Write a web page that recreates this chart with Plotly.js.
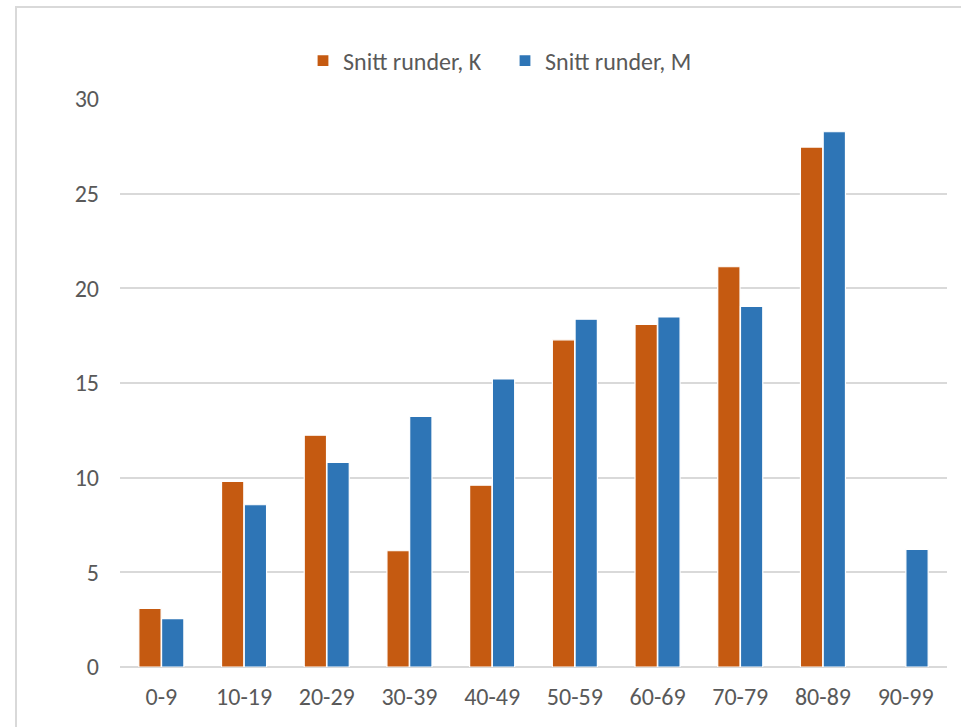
<!DOCTYPE html>
<html>
<head>
<meta charset="utf-8">
<script src="https://cdn.plot.ly/plotly-3.0.1.min.js"></script>
<style>
html,body{margin:0;padding:0;background:#fff;}
#chart{width:961px;height:727px;}
</style>
</head>
<body>
<div id="chart"></div>
<script>
const categories = ["0-9","10-19","20-29","30-39","40-49","50-59","60-69","70-79","80-89","90-99"];
const seriesK = [3.1, 9.8, 12.24, 6.14, 9.6, 17.28, 18.1, 21.14, 27.46, null];
const seriesM = [2.55, 8.57, 10.81, 13.24, 15.21, 18.37, 18.49, 19.05, 28.27, 6.21];
const nameK = "Snitt runder, K";
const nameM = "Snitt runder, M";
const yTicks = [0, 5, 10, 15, 20, 25, 30];

const W = 961, H = 727;
const L = 120, R = 14, T = 99, B = 60;
const pw = W - L - R, ph = H - T - B;
function px2x(p){ return (p - L) / pw; }
function py2y(p){ return (H - B - p) / ph; }

const fontFam = "Carlito, 'Liberation Sans', Arial, sans-serif";
const txtCol = "#595959";
const fs = 24;

const traces = [
  {type:'bar', name:nameK, x:categories, y:seriesK,
   marker:{color:'#C55A11', line:{color:'#ffffff', width:1.2}}},
  {type:'bar', name:nameM, x:categories, y:seriesM,
   marker:{color:'#2E75B6', line:{color:'#ffffff', width:1.2}}}
];

const layout = {
  width: W, height: H,
  margin: {l:L, r:R, t:T, b:B, pad:0},
  paper_bgcolor:'#ffffff', plot_bgcolor:'#ffffff',
  barmode:'group', bargap:0.45, bargroupgap:0.02,
  font:{family:fontFam, size:fs, color:txtCol},
  showlegend:true,
  legend:{orientation:'h', x:px2x(303), xanchor:'left', y:py2y(61), yanchor:'middle',
          entrywidth:157, entrywidthmode:'pixels',
          font:{family:fontFam, size:fs, color:txtCol}, bgcolor:'rgba(0,0,0,0)', itemwidth:30},
  xaxis:{type:'category', showgrid:false, showline:false, zeroline:false, ticks:'',
         tickfont:{family:fontFam, size:fs, color:txtCol}, ticklabelstandoff:13, fixedrange:true},
  yaxis:{range:[0,30], tickvals:yTicks, showgrid:true, gridcolor:'#d9d9d9', gridwidth:2,
         zeroline:true, zerolinecolor:'#d9d9d9', zerolinewidth:2.5, showline:false, ticks:'',
         tickfont:{family:fontFam, size:fs, color:txtCol}, ticklabelstandoff:20, fixedrange:true},
  shapes:[
    {type:'line', xref:'paper', yref:'paper', x0:px2x(16), x1:px2x(16), y0:py2y(7), y1:py2y(735),
     line:{color:'#d9d9d9', width:2}, layer:'above'},
    {type:'line', xref:'paper', yref:'paper', x0:px2x(15), x1:px2x(970), y0:py2y(7), y1:py2y(7),
     line:{color:'#d9d9d9', width:2}, layer:'above'}
  ]
};

Plotly.newPlot('chart', traces, layout, {displayModeBar:false, staticPlot:true});
</script>
</body>
</html>
